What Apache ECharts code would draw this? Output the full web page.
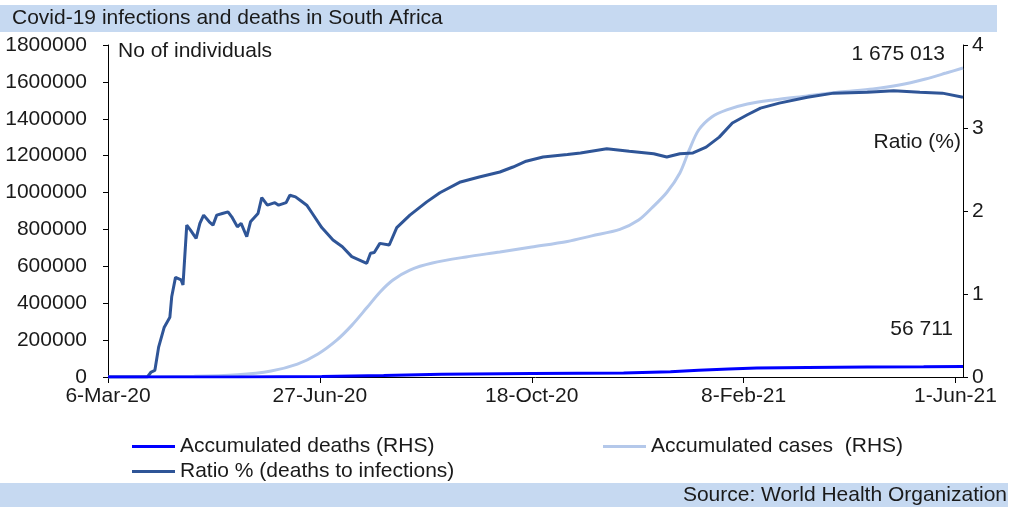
<!DOCTYPE html>
<html>
<head>
<meta charset="utf-8">
<script src="https://cdn.jsdelivr.net/npm/echarts@6/dist/echarts.min.js"></script>
<style>
  html, body { margin: 0; padding: 0; background: #fff; }
  #chart { width: 1013px; height: 508px; }
</style>
</head>
<body>
<div id="chart"></div>
<script>
// x axis ticks
const tickDates = ["2020-03-06", "2020-06-27", "2020-10-18", "2021-02-08", "2021-06-01"];
const tickLabels = ["6-Mar-20", "27-Jun-20", "18-Oct-20", "8-Feb-21", "1-Jun-21"];

// accumulated cases (left axis)
const caseDates = ["2020-03-06", "2020-04-21", "2020-05-14", "2020-06-01", "2020-06-15", "2020-06-26",
  "2020-07-06", "2020-07-14", "2020-07-22", "2020-07-29", "2020-08-05", "2020-08-14", "2020-08-26",
  "2020-09-13", "2020-10-01", "2020-10-18", "2020-11-06", "2020-11-19", "2020-12-04", "2020-12-14",
  "2020-12-21", "2020-12-29", "2021-01-05", "2021-01-10", "2021-01-15", "2021-01-22", "2021-01-30",
  "2021-02-10", "2021-02-24", "2021-03-14", "2021-03-31", "2021-04-18", "2021-05-02", "2021-05-16",
  "2021-05-27", "2021-06-05"];
const cases = [0, 3500, 12000, 33000, 70000, 125000,
  200000, 280000, 375000, 460000, 526000, 580000, 618000,
  651000, 678000, 705000, 735000, 765000, 800000, 851000,
  916000, 1000000, 1106000, 1231000, 1339000, 1410000, 1448000,
  1480000, 1502000, 1524000, 1545000, 1562000, 1583000, 1616000,
  1648000, 1675013];

// accumulated deaths (left axis)
const deathDates = ["2020-03-06", "2020-05-14", "2020-06-28", "2020-07-31", "2020-08-31", "2020-10-18",
  "2020-12-06", "2020-12-31", "2021-01-15", "2021-01-31", "2021-02-15", "2021-03-14", "2021-04-15",
  "2021-05-15", "2021-06-05"];
const deaths = [0, 250, 2500, 8000, 14500, 18500,
  22000, 28500, 37000, 44000, 48500, 51500, 53800,
  55300, 56711];

// ratio % (right axis)
const ratioDates = ["2020-03-06", "2020-03-27", "2020-03-29", "2020-03-31", "2020-04-02", "2020-04-03",
  "2020-04-05", "2020-04-08", "2020-04-09", "2020-04-11", "2020-04-14", "2020-04-15", "2020-04-17",
  "2020-04-19", "2020-04-22", "2020-04-24", "2020-04-26", "2020-04-29", "2020-05-01", "2020-05-03",
  "2020-05-06", "2020-05-09", "2020-05-11", "2020-05-14", "2020-05-16", "2020-05-19", "2020-05-21",
  "2020-05-25", "2020-05-27", "2020-05-30", "2020-06-03", "2020-06-05", "2020-06-09", "2020-06-11",
  "2020-06-14", "2020-06-17", "2020-06-20", "2020-06-23", "2020-06-28", "2020-07-04", "2020-07-09",
  "2020-07-14", "2020-07-22", "2020-07-24", "2020-07-26", "2020-07-29", "2020-08-03", "2020-08-07",
  "2020-08-14", "2020-08-23", "2020-08-30", "2020-09-10", "2020-09-20", "2020-10-01", "2020-10-08",
  "2020-10-15", "2020-10-24", "2020-11-06", "2020-11-13", "2020-11-27", "2020-12-09", "2020-12-22",
  "2020-12-29", "2021-01-05", "2021-01-12", "2021-01-19", "2021-01-26", "2021-02-02", "2021-02-10",
  "2021-02-17", "2021-02-27", "2021-03-14", "2021-03-28", "2021-04-15", "2021-04-29", "2021-05-13",
  "2021-05-25", "2021-06-05"];
const ratio = [0, 0, 0.06, 0.08, 0.36, 0.35,
  0.6, 0.72, 0.97, 1.2, 1.17, 1.11, 1.83,
  1.77, 1.67, 1.85, 1.95, 1.87, 1.83, 1.95,
  1.97, 1.99, 1.93, 1.81, 1.85, 1.69, 1.87,
  1.97, 2.16, 2.07, 2.1, 2.07, 2.1, 2.19,
  2.17, 2.12, 2.07, 1.97, 1.8, 1.65, 1.57,
  1.45, 1.37, 1.49, 1.5, 1.61, 1.59, 1.8,
  1.95, 2.11, 2.22, 2.35, 2.41, 2.47, 2.53,
  2.6, 2.65, 2.68, 2.7, 2.75, 2.72, 2.69,
  2.65, 2.69, 2.7, 2.77, 2.89, 3.06, 3.16,
  3.24, 3.3, 3.37, 3.42, 3.43, 3.45, 3.43,
  3.42, 3.37];

const startDate = "2020-03-06";

function dayNo(s) {
  const a = s.split("-").map(Number);
  const b = startDate.split("-").map(Number);
  return Math.round((Date.UTC(a[0], a[1] - 1, a[2]) - Date.UTC(b[0], b[1] - 1, b[2])) / 86400000);
}
function pairs(dates, vals) {
  return dates.map((d, i) => [dayNo(d), vals[i]]);
}

const tickDays = tickDates.map(dayNo);
const FONT = "Liberation Sans, Arial, sans-serif";
const TXT = "#1a1a1a";
const FS = 21;

let myChart = echarts.init(document.getElementById("chart"));

myChart.setOption({
  animation: false,
  textStyle: { fontFamily: FONT },
  grid: { left: 108, right: 50, top: 45, bottom: 131 },
  legend: [
    {
      data: ["Accumulated deaths (RHS)"],
      left: 127, top: 431, icon: "rect", itemWidth: 43, itemHeight: 3,
      textStyle: { fontSize: FS, color: TXT, fontFamily: FONT },
    },
    {
      data: ["Accumulated cases  (RHS)"],
      left: 598, top: 431, icon: "rect", itemWidth: 43, itemHeight: 3,
      textStyle: { fontSize: FS, color: TXT, fontFamily: FONT },
    },
    {
      data: ["Ratio % (deaths to infections)"],
      left: 127, top: 456, icon: "rect", itemWidth: 43, itemHeight: 3,
      textStyle: { fontSize: FS, color: TXT, fontFamily: FONT },
    },
  ],
  xAxis: {
    type: "value",
    min: 0,
    max: 456,
    axisLine: { lineStyle: { color: "#000", width: 1 } },
    axisTick: { customValues: tickDays, length: 6, lineStyle: { color: "#000" } },
    axisLabel: {
      customValues: tickDays,
      margin: 9,
      fontSize: FS,
      color: TXT,
      fontFamily: FONT,
      formatter: (v) => tickLabels[tickDays.indexOf(v)] || "",
    },
    splitLine: { show: false },
  },
  yAxis: [
    {
      type: "value",
      min: 0,
      max: 1800000,
      interval: 200000,
      axisLine: { show: true, lineStyle: { color: "#000", width: 1 } },
      axisTick: { show: true, length: 5, lineStyle: { color: "#000" } },
      axisLabel: { fontSize: FS, color: TXT, fontFamily: FONT, margin: 21, formatter: (v) => String(v) },
      splitLine: { show: false },
    },
    {
      type: "value",
      min: 0,
      max: 4,
      interval: 1,
      position: "right",
      axisLine: { show: true, lineStyle: { color: "#000", width: 1 } },
      axisTick: { show: true, length: 5, lineStyle: { color: "#000" } },
      axisLabel: { fontSize: FS, color: TXT, fontFamily: FONT, margin: 9 },
      splitLine: { show: false },
    },
  ],
  series: [
    {
      name: "Accumulated cases  (RHS)",
      type: "line",
      data: pairs(caseDates, cases),
      showSymbol: false,
      smooth: 0.3,
      lineStyle: { color: "#b4c8ea", width: 3 },
      itemStyle: { color: "#b4c8ea" },
    },
    {
      name: "Ratio % (deaths to infections)",
      type: "line",
      yAxisIndex: 1,
      data: pairs(ratioDates, ratio),
      showSymbol: false,
      lineStyle: { color: "#2f5597", width: 3 },
      itemStyle: { color: "#2f5597" },
    },
    {
      name: "Accumulated deaths (RHS)",
      type: "line",
      data: pairs(deathDates, deaths),
      showSymbol: false,
      lineStyle: { color: "#0000ff", width: 3 },
      itemStyle: { color: "#0000ff" },
    },
  ],
  graphic: [
    { type: "rect", left: 0, top: 5, shape: { width: 997, height: 27 }, style: { fill: "#c6d9f1" }, silent: true },
    {
      type: "text", left: 12, top: 8,
      style: { text: "Covid-19 infections and deaths in South Africa", fontSize: FS, fill: TXT, fontFamily: FONT },
    },
    { type: "rect", left: 0, top: 483, shape: { width: 1008, height: 24 }, style: { fill: "#c6d9f1" }, silent: true },
    {
      type: "text", right: 6, top: 485,
      style: { text: "Source: World Health Organization", fontSize: FS, fill: TXT, fontFamily: FONT },
    },
    { type: "text", left: 118, top: 41, style: { text: "No of individuals", fontSize: FS, fill: TXT, fontFamily: FONT } },
    { type: "text", right: 68, top: 44, style: { text: "1 675 013", fontSize: FS, fill: TXT, fontFamily: FONT } },
    { type: "text", right: 52, top: 132, style: { text: "Ratio (%)", fontSize: FS, fill: TXT, fontFamily: FONT } },
    { type: "text", right: 60, top: 319, style: { text: "56 711", fontSize: FS, fill: TXT, fontFamily: FONT } },
  ],
});
</script>
</body>
</html>
